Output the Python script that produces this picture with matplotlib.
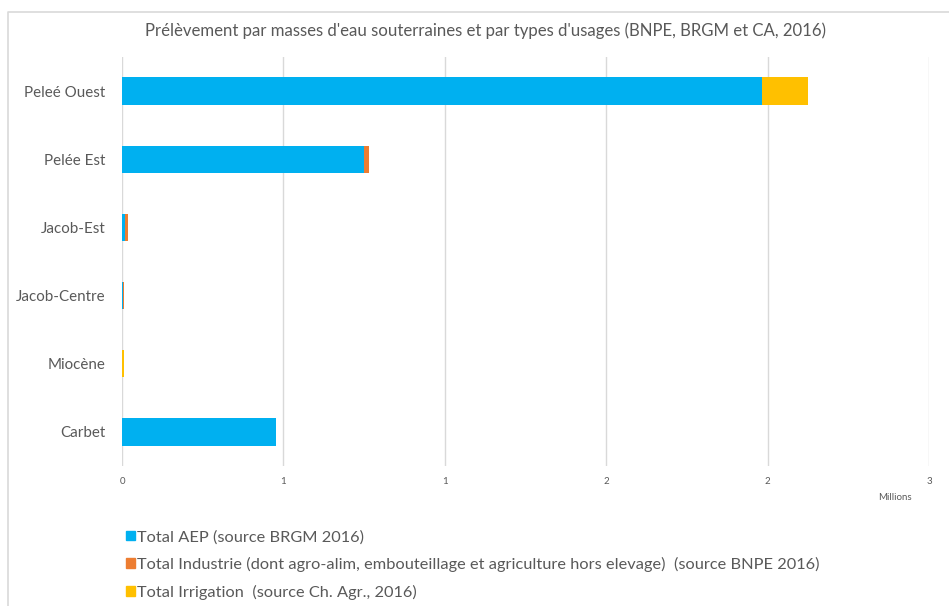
import numpy as np
import matplotlib.pyplot as plt
from matplotlib.lines import Line2D
from matplotlib.patches import Patch

plt.rcParams['font.family'] = ['Lato', 'DejaVu Sans']

# data (millions de m3)
categories = ['Peleé Ouest', 'Pelée Est', 'Jacob-Est', 'Jacob-Centre', 'Miocène', 'Carbet']
aep = [1.983, 0.751, 0.009, 0.003, 0.001, 0.478]
industrie = [0.0, 0.015, 0.009, 0.004, 0.0, 0.0]
irrigation = [0.141, 0.0, 0.0, 0.0, 0.004, 0.0]
series_labels = ['Total AEP (source BRGM 2016)',
                 'Total Industrie (dont agro-alim, embouteillage et agriculture hors elevage)  (source BNPE 2016)',
                 'Total Irrigation  (source Ch. Agr., 2016)']
xticks = [0, 0.5, 1, 1.5, 2, 2.5]
xtick_labels = ['0', '1', '1', '2', '2', '3']

colors = ['#00B0F0', '#ED7D31', '#FFC000']
txt = '#595959'

W, H = 949, 606
fig = plt.figure(figsize=(W/100, H/100), dpi=100)
ax = fig.add_axes([122/W, 1-466/H, (929-122)/W, (466-57)/H])

y = np.arange(len(categories))
aep = np.array(aep); industrie = np.array(industrie); irrigation = np.array(irrigation)
ax.barh(y, aep, height=0.4, color=colors[0])
ax.barh(y, industrie, left=aep, height=0.4, color=colors[1])
ax.barh(y, irrigation, left=aep+industrie, height=0.4, color=colors[2])

ax.set_xlim(0, 2.5)
ax.set_ylim(len(categories)-0.5, -0.5)
ax.set_xticks(xticks)
ax.set_xticklabels(xtick_labels, fontsize=7, color=txt)
ax.set_yticks(y)
ax.set_yticklabels(categories, fontsize=10.9, color=txt)
ax.tick_params(length=0, pad=12)
ax.tick_params(axis='x', pad=8)
ax.grid(axis='x', color='#D9D9D9', lw=1)
ax.set_axisbelow(True)
for s in ax.spines.values():
    s.set_visible(False)

fig.text(895/W, 1-497/H, 'Millions', fontsize=7, color=txt, ha='center', va='center')
fig.text(486/W, 1-31/H, "Prélèvement par masses d'eau souterraines et par types d'usages (BNPE, BRGM et CA, 2016)",
         fontsize=12.1, color=txt, ha='center', va='center')

# chart border
fig.add_artist(Line2D([8/W, 8/W, 1], [0, 1-12/H, 1-12/H], transform=fig.transFigure,
                      color='#D9D9D9', lw=1.2))

handles = [Patch(color=c) for c in colors]
fig.legend(handles, series_labels, loc='upper left', bbox_to_anchor=(126/W, 1-530/H),
           frameon=False, fontsize=11.8, labelcolor=txt, handlelength=0.55, handleheight=0.55,
           handletextpad=0.15, labelspacing=0.78, borderaxespad=0, borderpad=0)

fig.savefig('out.png', dpi=100)
